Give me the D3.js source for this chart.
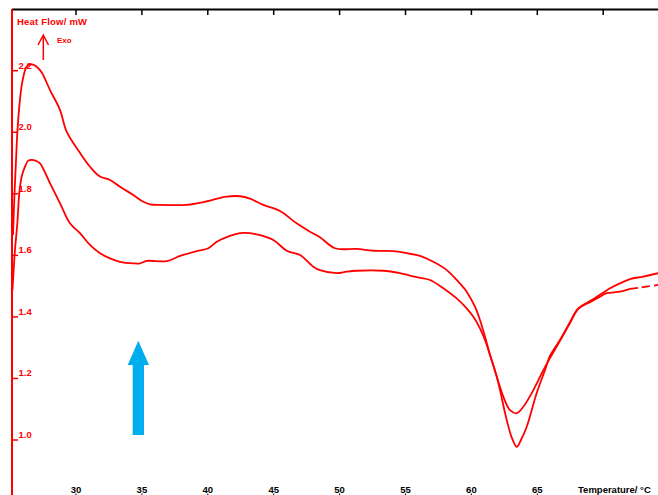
<!DOCTYPE html>
<html>
<head>
<meta charset="utf-8">
<script src="https://cdn.jsdelivr.net/npm/d3@7"></script>
<style>
  body { margin: 0; background: #fff; }
  svg { display: block; font-family: "Liberation Sans", Arial, sans-serif; font-weight: bold; }
</style>
</head>
<body>
<svg width="658" height="495"></svg>
<script>
// temperature (°C) and heat flow (mW)
const upperT = [25.22, 25.33, 25.45, 25.56, 25.71, 25.86, 26.02, 26.24, 26.51, 26.74, 27.04, 27.40, 28.03, 28.79, 29.29,
  30.30, 31.06, 31.82, 32.58, 33.34, 34.35, 35.11, 35.61, 36.37, 38.40, 39.16, 40.17, 41.43, 42.44, 43.20, 44.21,
  45.48, 46.74, 47.75, 48.51, 49.65, 51.30, 52.56, 54.07, 55.09, 56.10, 57.11, 58.13, 58.88, 59.64, 60.27, 60.65,
  61.03, 61.41, 61.92, 62.17, 62.68, 63.08, 63.44, 63.76, 64.20, 64.95, 65.58, 65.96, 66.72, 67.48, 68.11, 69.23,
  70.52, 71.28, 72.03, 73.04, 74.16];
const upperHF = [1.666, 1.796, 1.910, 2.007, 2.089, 2.147, 2.183, 2.212, 2.221, 2.220, 2.212, 2.194, 2.137, 2.072, 2.002,
  1.933, 1.888, 1.856, 1.845, 1.823, 1.796, 1.774, 1.766, 1.764, 1.764, 1.769, 1.778, 1.791, 1.792, 1.784, 1.764,
  1.744, 1.704, 1.677, 1.659, 1.623, 1.621, 1.615, 1.614, 1.607, 1.598, 1.579, 1.552, 1.520, 1.482, 1.433, 1.390,
  1.336, 1.276, 1.206, 1.162, 1.065, 1.006, 0.978, 1.000, 1.043, 1.152, 1.227, 1.273, 1.325, 1.383, 1.428, 1.457,
  1.493, 1.509, 1.523, 1.531, 1.542];

const lowerT = [25.18, 25.24, 25.37, 25.55, 25.70, 25.88, 26.13, 26.36, 26.64, 26.97, 27.27, 28.03, 28.79, 29.54,
  30.30, 31.06, 31.82, 32.58, 33.34, 34.35, 34.86, 35.36, 36.88, 37.89, 39.16, 40.04, 40.68, 41.68, 42.44, 43.20,
  43.71, 44.97, 45.99, 47.00, 48.00, 48.51, 49.78, 50.54, 51.30, 53.32, 54.58, 55.85, 56.86, 57.87, 58.88, 59.64,
  60.14, 60.65, 61.03, 61.54, 62.42, 62.93, 63.44, 63.94, 64.70, 65.46, 65.96, 66.72, 67.48, 68.11, 69.00, 69.76,
  70.27, 71.28, 72.03, 72.79, 74.16];
const lowerHF = [1.487, 1.531, 1.617, 1.705, 1.803, 1.856, 1.888, 1.907, 1.910, 1.907, 1.899, 1.834, 1.769, 1.704,
  1.672, 1.634, 1.607, 1.590, 1.579, 1.574, 1.574, 1.582, 1.581, 1.598, 1.614, 1.623, 1.644, 1.663, 1.672, 1.672,
  1.668, 1.650, 1.615, 1.601, 1.563, 1.552, 1.542, 1.547, 1.550, 1.550, 1.542, 1.529, 1.520, 1.493, 1.460, 1.428,
  1.401, 1.363, 1.325, 1.260, 1.141, 1.097, 1.087, 1.108, 1.162, 1.227, 1.266, 1.322, 1.380, 1.426, 1.448, 1.466,
  1.477, 1.482, 1.491, 1.495, 1.504];

const xTicks = [30, 35, 40, 45, 50, 55, 60, 65];
const topTicks = [30, 35, 40, 45, 50, 55, 60, 65, 70];
const yTicks = [1.0, 1.2, 1.4, 1.6, 1.8, 2.0, 2.2];

const svg = d3.select("svg");
const red = "#ff0000";

// scales (30°C -> 76px, 70°C -> 603px ; 1.0 -> 440px, 2.2 -> 70.7px)
const x = d3.scaleLinear().domain([25, 75]).range([10.1, 669.1]);
const y = d3.scaleLinear().domain([1.0, 2.2]).range([440, 70.7]);

// top frame line with ticks
svg.append("line")
   .attr("x1", 12).attr("x2", 658).attr("y1", 9.5).attr("y2", 9.5)
   .attr("stroke", "#000").attr("stroke-width", 2);
svg.selectAll(".ttick").data(topTicks).enter().append("line")
   .attr("x1", d => x(d)).attr("x2", d => x(d))
   .attr("y1", 9.5).attr("y2", 15)
   .attr("stroke", "#000").attr("stroke-width", 1.5);

// left axis
svg.append("line")
   .attr("x1", 12).attr("x2", 12).attr("y1", 9).attr("y2", 495)
   .attr("stroke", red).attr("stroke-width", 2);
svg.selectAll(".ytick").data(yTicks).enter().append("line")
   .attr("x1", 12).attr("x2", 18)
   .attr("y1", d => y(d)).attr("y2", d => y(d))
   .attr("stroke", red).attr("stroke-width", 1.5);
svg.selectAll(".ylab").data(yTicks).enter().append("text")
   .attr("x", 18.5).attr("y", d => y(d) - 2)
   .attr("fill", red).attr("font-size", 9.5)
   .text(d => d.toFixed(1));

// bottom labels
svg.selectAll(".xlab").data(xTicks).enter().append("text")
   .attr("x", d => x(d)).attr("y", 492.5)
   .attr("text-anchor", "middle").attr("fill", "#000").attr("font-size", 9.5)
   .text(d => d);
svg.selectAll(".xtick").data(xTicks).enter().append("line")
   .attr("x1", d => x(d)).attr("x2", d => x(d))
   .attr("y1", 493.5).attr("y2", 495)
   .attr("stroke", "#000").attr("stroke-width", 1);
svg.append("text")
   .attr("x", 578).attr("y", 492.5)
   .attr("fill", "#000").attr("font-size", 9.5)
   .text("Temperature/ °C");

// y title and exo arrow
svg.append("text")
   .attr("x", 17).attr("y", 25)
   .attr("fill", red).attr("font-size", 9.5).attr("textLength", 70)
   .text("Heat Flow/ mW");
svg.append("path")
   .attr("d", "M43.3,60 L43.3,35 M38,45 L43.3,35 L48.5,45")
   .attr("fill", "none").attr("stroke", red).attr("stroke-width", 1.5);
svg.append("text")
   .attr("x", 57).attr("y", 43)
   .attr("fill", red).attr("font-size", 8)
   .text("Exo");

// curves
const line = d3.line()
   .x(d => x(d[0])).y(d => y(d[1]))
   .curve(d3.curveCatmullRom.alpha(0.5));

const upper = upperT.map((t, i) => [t, upperHF[i]]);
const lower = lowerT.map((t, i) => [t, lowerHF[i]]);
const lowerSolid = lower.filter(d => d[0] <= 72.03);
const lowerTail = lower.filter(d => d[0] >= 72.03);

svg.append("path").datum(upper)
   .attr("d", line).attr("fill", "none")
   .attr("stroke", red).attr("stroke-width", 1.8);
svg.append("path").datum(lowerSolid)
   .attr("d", line).attr("fill", "none")
   .attr("stroke", red).attr("stroke-width", 1.8);
svg.append("path").datum(lowerTail)
   .attr("d", line).attr("fill", "none")
   .attr("stroke", red).attr("stroke-width", 1.8)
   .attr("stroke-dasharray", "8,4");

// blue marker arrow
svg.append("path")
   .attr("d", "M138.3,340.7 L149,365 L144,365 L144,435 L132.7,435 L132.7,365 L127.7,365 Z")
   .attr("fill", "#00aeef");
</script>
</body>
</html>
